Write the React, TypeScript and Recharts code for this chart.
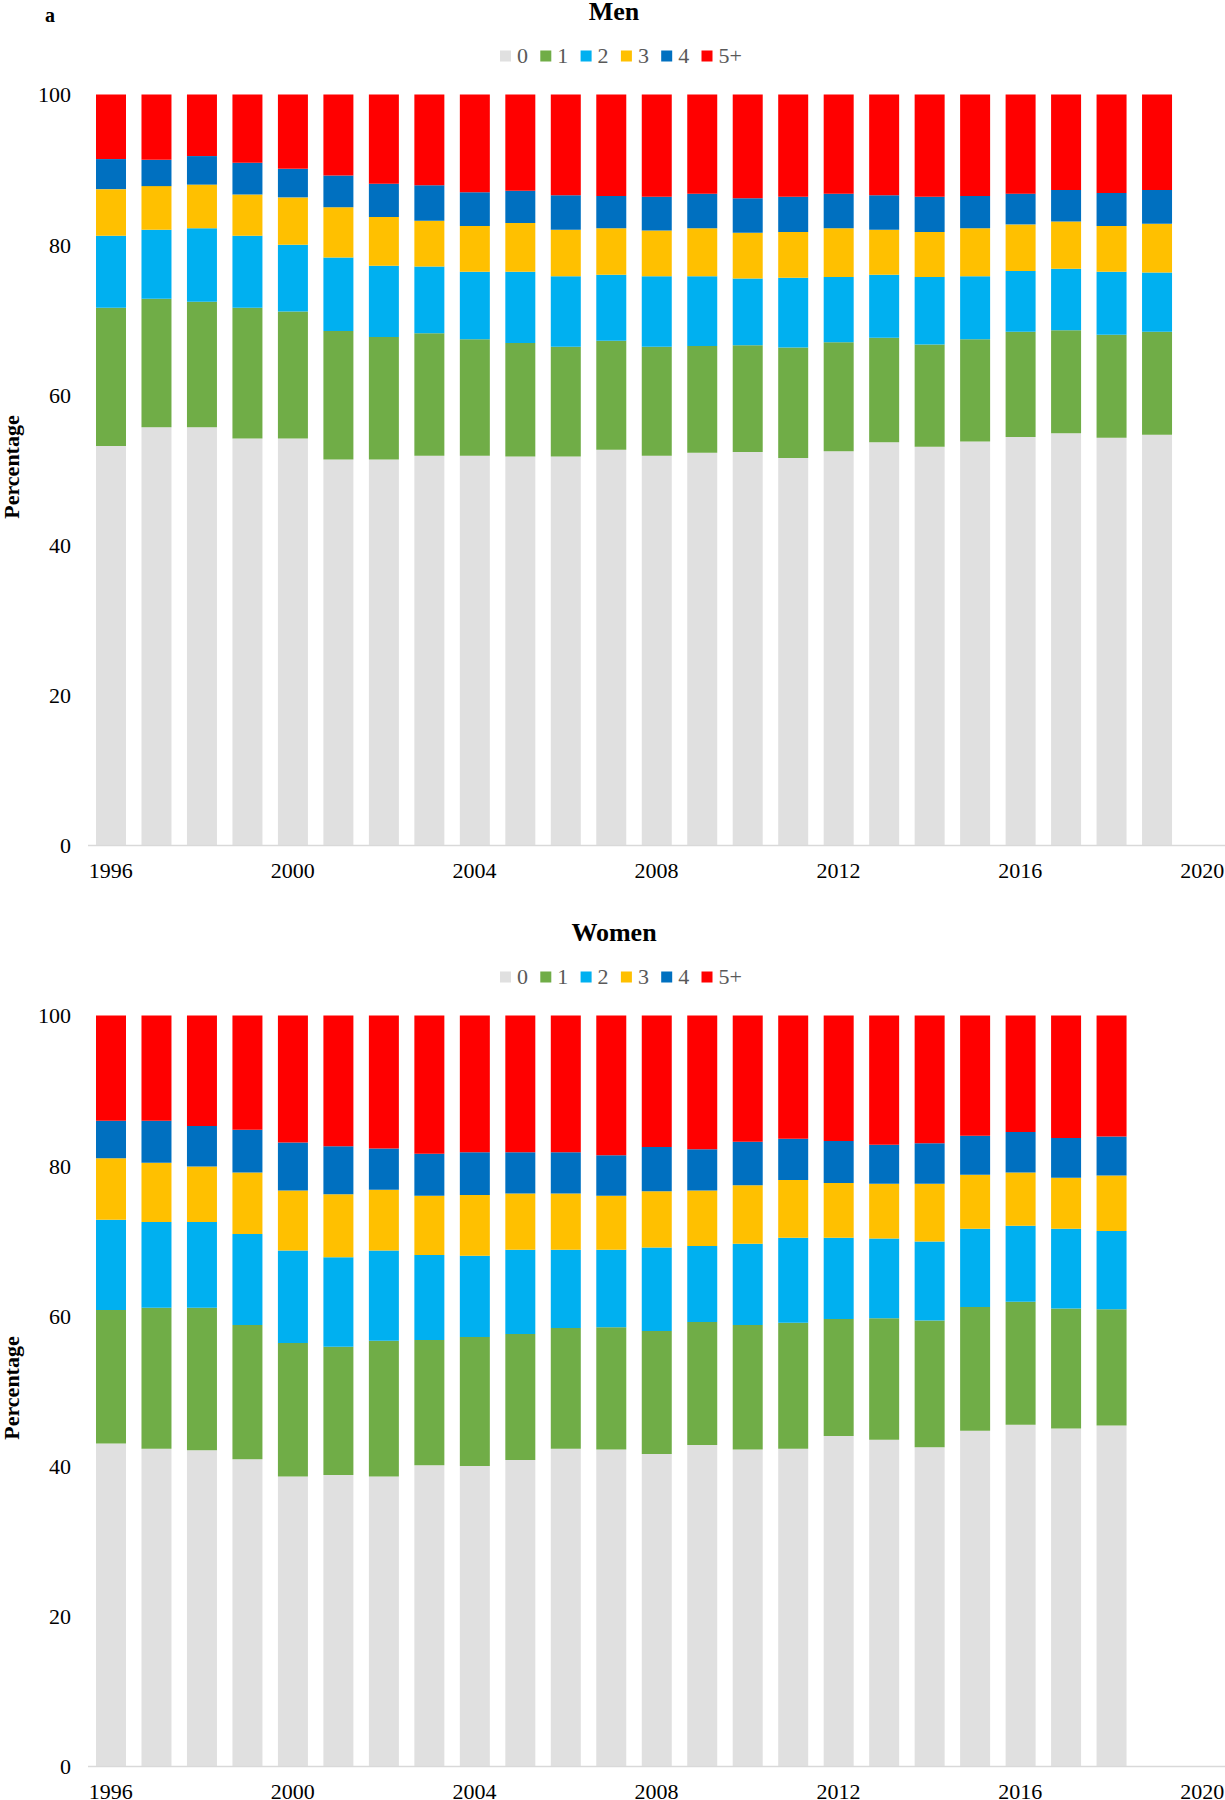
import { BarChart, Bar, XAxis, YAxis } from 'recharts'

// 年份（2020 只占位，没有数据）
const years = [
  '1996', '1997', '1998', '1999', '2000', '2001', '2002', '2003', '2004',
  '2005', '2006', '2007', '2008', '2009', '2010', '2011', '2012', '2013',
  '2014', '2015', '2016', '2017', '2018', '2019', '2020',
]

const seriesNames = ['0', '1', '2', '3', '4', '5+']
const yTicks = [0, 20, 40, 60, 80, 100]

// Men, share (%) per category, 1996-2019
const men0 = [53.2, 55.7, 55.7, 54.2, 54.2, 51.4, 51.4, 51.9, 51.9, 51.8, 51.8, 52.7, 51.9, 52.3, 52.4, 51.6, 52.5, 53.7, 53.1, 53.8, 54.4, 54.9, 54.3, 54.7]
const men1 = [18.4, 17.1, 16.7, 17.4, 16.9, 17.1, 16.3, 16.3, 15.5, 15.1, 14.6, 14.5, 14.5, 14.2, 14.2, 14.7, 14.5, 13.9, 13.6, 13.6, 14.0, 13.7, 13.7, 13.7]
const men2 = [9.6, 9.2, 9.8, 9.6, 8.9, 9.8, 9.5, 8.9, 9.0, 9.5, 9.4, 8.8, 9.4, 9.3, 8.9, 9.3, 8.7, 8.4, 9.0, 8.4, 8.1, 8.2, 8.4, 7.9]
const men3 = [6.2, 5.8, 5.8, 5.5, 6.3, 6.7, 6.5, 6.1, 6.1, 6.5, 6.2, 6.2, 6.1, 6.4, 6.1, 6.1, 6.5, 6.0, 6.0, 6.4, 6.2, 6.3, 6.1, 6.5]
const men4 = [4.0, 3.5, 3.8, 4.2, 3.8, 4.2, 4.4, 4.7, 4.5, 4.3, 4.6, 4.3, 4.5, 4.6, 4.6, 4.7, 4.6, 4.6, 4.7, 4.3, 4.1, 4.2, 4.4, 4.5]
const men5 = [8.6, 8.7, 8.2, 9.1, 9.9, 10.8, 11.9, 12.1, 13.0, 12.8, 13.4, 13.5, 13.6, 13.2, 13.8, 13.6, 13.2, 13.4, 13.6, 13.5, 13.2, 12.7, 13.1, 12.7]

// Women, share (%) per category, 1996-2018
const women0 = [43.0, 42.3, 42.1, 40.9, 38.6, 38.8, 38.6, 40.1, 40.0, 40.8, 42.3, 42.2, 41.6, 42.8, 42.2, 42.3, 44.0, 43.5, 42.5, 44.7, 45.5, 45.0, 45.4]
const women1 = [17.8, 18.8, 19.0, 17.9, 17.8, 17.1, 18.1, 16.7, 17.2, 16.8, 16.1, 16.3, 16.4, 16.4, 16.6, 16.8, 15.6, 16.2, 16.9, 16.5, 16.4, 16.0, 15.5]
const women2 = [12.0, 11.4, 11.4, 12.1, 12.3, 11.9, 12.0, 11.3, 10.8, 11.2, 10.4, 10.3, 11.1, 10.1, 10.8, 11.3, 10.8, 10.6, 10.5, 10.4, 10.1, 10.6, 10.4]
const women3 = [8.2, 7.9, 7.4, 8.2, 8.0, 8.4, 8.1, 7.9, 8.1, 7.5, 7.5, 7.2, 7.5, 7.4, 7.8, 7.7, 7.3, 7.3, 7.7, 7.2, 7.1, 6.8, 7.4]
const women4 = [5.0, 5.6, 5.4, 5.7, 6.4, 6.4, 5.5, 5.6, 5.7, 5.5, 5.5, 5.4, 5.9, 5.5, 5.8, 5.5, 5.6, 5.2, 5.4, 5.2, 5.4, 5.3, 5.2]
const women5 = [14.0, 14.0, 14.7, 15.2, 16.9, 17.4, 17.7, 18.4, 18.2, 18.2, 18.2, 18.6, 17.5, 17.8, 16.8, 16.4, 16.7, 17.2, 17.0, 16.0, 15.5, 16.3, 16.1]

const colors = ['#e0e0e0', '#70ad47', '#00b0f0', '#ffc000', '#0070c0', '#ff0000']
const FONT = "'Liberation Serif', 'Times New Roman', serif"

function buildRows(series: number[][]) {
  return years.map((year, i) => {
    const row: Record<string, string | number | null> = { year }
    series.forEach((values, k) => {
      row[`s${k}`] = values[i] ?? null
    })
    return row
  })
}

const menRows = buildRows([men0, men1, men2, men3, men4, men5])
const womenRows = buildRows([women0, women1, women2, women3, women4, women5])

interface PanelProps {
  title: string
  rows: Record<string, string | number | null>[]
  top: number
  height: number
  xAxisHeight: number
  showTag?: boolean
}

function Panel({ title, rows, top, height, xAxisHeight, showTag }: PanelProps) {
  return (
    <div style={{ position: 'absolute', left: 0, top, width: 1225, height }}>
      <BarChart
        width={1225}
        height={height}
        data={rows}
        margin={{ top: 94.5, right: 0, bottom: 0, left: 0 }}
        barSize={30}
      >
        {/* 每 4 年一个刻度：1996, 2000, ..., 2020 */}
        <XAxis
          dataKey="year"
          interval={3}
          height={xAxisHeight}
          tickLine={false}
          tickSize={0}
          tickMargin={16.5}
          axisLine={{ stroke: '#d9d9d9', strokeWidth: 1.5 }}
          tick={{ fontSize: 22, fill: '#000', fontFamily: FONT }}
        />
        <YAxis
          domain={[0, 100]}
          ticks={yTicks}
          width={88}
          axisLine={false}
          tickLine={false}
          tickSize={0}
          tickMargin={17}
          tick={{ fontSize: 22, fill: '#000', fontFamily: FONT }}
        />
        {seriesNames.map((name, k) => (
          <Bar
            key={name}
            name={name}
            dataKey={`s${k}`}
            stackId="a"
            fill={colors[k]}
            isAnimationActive={false}
          />
        ))}
      </BarChart>

      {/* 标题、图例、纵轴标题 */}
      <svg
        width={1225}
        height={height}
        style={{ position: 'absolute', left: 0, top: 0, pointerEvents: 'none' }}
      >
        {showTag && (
          <text x={45} y={21.5} fontSize={20} fontWeight="bold" fontFamily={FONT}>
            a
          </text>
        )}
        <text x={614} y={20} fontSize={26} fontWeight="bold" fontFamily={FONT} textAnchor="middle">
          {title}
        </text>
        {seriesNames.map((name, k) => (
          <g key={name}>
            <rect x={500 + k * 40.3} y={50.5} width={11} height={11} fill={colors[k]} />
            <text x={517 + k * 40.3} y={63} fontSize={22} fill="#595959" fontFamily={FONT}>
              {name}
            </text>
          </g>
        ))}
        <text
          x={19}
          y={467}
          fontSize={22}
          fontWeight="bold"
          fontFamily={FONT}
          textAnchor="middle"
          transform="rotate(-90 19 467)"
        >
          Percentage
        </text>
      </svg>
    </div>
  )
}

export default function App() {
  return (
    <div
      style={{
        position: 'absolute',
        left: 0,
        top: 0,
        width: 1225,
        height: 1800,
        overflow: 'hidden',
        background: '#fff',
      }}
    >
      <Panel title="Men" rows={menRows} top={0} height={900} xAxisHeight={54.5} showTag />
      <Panel title="Women" rows={womenRows} top={920.5} height={879.5} xAxisHeight={34} />
    </div>
  )
}
